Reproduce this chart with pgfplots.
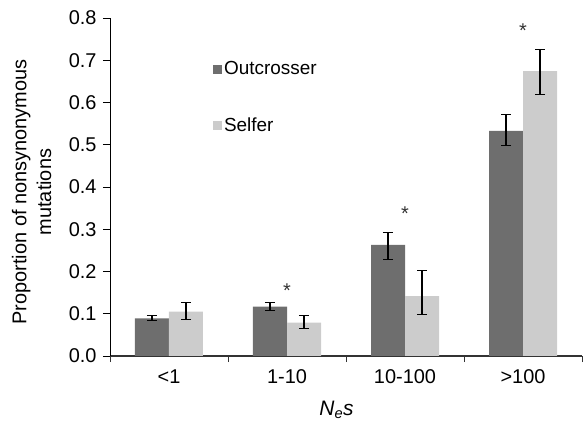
\documentclass[border=0pt]{standalone}
\usepackage{pgfplots}
\pgfplotsset{compat=1.18}
\usepackage{fontspec}
\setmainfont{Liberation Sans}
\definecolor{outc}{HTML}{6E6E6E}
\definecolor{selfc}{HTML}{CCCCCC}
\definecolor{axc}{HTML}{333333}
\begin{document}
\begin{tikzpicture}
\useasboundingbox (-110bp,-67bp) rectangle (473bp,356bp);
\begin{axis}[
  scale only axis,
  width=472bp, height=338bp,
  xmin=-0.5, xmax=3.5,
  ymin=0, ymax=0.8,
  ybar, bar width=34bp,
  axis lines*=left,
  axis line style={-, line width=0.9pt},
  x axis line style={draw=axc, line width=1.1pt},
  xtick={0,1,2,3},
  xticklabels={{<1},{1-10},{10-100},{>100}},
  minor xtick={-0.5,0.5,1.5,2.5,3.5},
  major x tick style={draw=none},
  minor x tick style={draw=axc, line width=0.9pt},
  minor tick length=6bp,
  ytick={0,0.1,...,0.8},
  major tick length=7bp,
  tick align=outside,
  y tick style={black, line width=0.9pt},
  yticklabel style={/pgf/number format/fixed, /pgf/number format/fixed zerofill, /pgf/number format/precision=1, xshift=-3bp},
  /pgf/number format/assume math mode=true,
  ticklabel style={font=\fontsize{20}{22}\selectfont},
  xticklabel style={yshift=-3bp},
  xlabel={\textit{N\textsubscript{e}s}},
  xlabel style={at={(axis description cs:0.48,0)}, anchor=center, yshift=-54bp, font=\fontsize{21}{24}\selectfont},
  ylabel={Proportion of nonsynonymous\\mutations},
  ylabel style={at={(axis description cs:-0.166,0.485)}, anchor=center, align=center, font=\fontsize{20}{25}\selectfont},
  legend style={draw=none, fill=none, at={(0.218,0.877)}, anchor=north west,
    font=\fontsize{19}{22}\selectfont, row sep=37bp, inner sep=0pt,
    /tikz/every even column/.append style={column sep=3bp}},
  legend cell align=left,
  legend image code/.code={\fill[#1] (0bp,-4.5bp) rectangle (9bp,4.5bp);},
  error bars/error bar style={black, line width=1.1pt},
  error bars/error mark options={rotate=90, mark size=5bp, line width=1.1pt, black},
]
\addplot[bar shift=-17bp, fill=outc, draw=none,
  error bars/.cd, y dir=both, y explicit]
  coordinates {
    (0,0.089) += (0,0.006) -= (0,0.005)
    (1,0.117) += (0,0.009) -= (0,0.009)
    (2,0.263) += (0,0.030) -= (0,0.034)
    (3,0.533) += (0,0.038) -= (0,0.034)
  };
\addlegendentry{Outcrosser}
\addplot[bar shift=17bp, fill=selfc, draw=none,
  error bars/.cd, y dir=both, y explicit]
  coordinates {
    (0,0.105) += (0,0.021) -= (0,0.019)
    (1,0.079) += (0,0.017) -= (0,0.014)
    (2,0.142) += (0,0.061) -= (0,0.043)
    (3,0.674) += (0,0.052) -= (0,0.054)
  };
\addlegendentry{Selfer}
\addplot[bar shift=0bp, draw=none, fill=none, forget plot,
  nodes near coords={*},
  every node near coord/.append style={anchor=center, font=\fontsize{20}{20}\selectfont, text=axc}]
  coordinates {(1,0.155) (2,0.338) (3,0.771)};
\end{axis}
\end{tikzpicture}
\end{document}
